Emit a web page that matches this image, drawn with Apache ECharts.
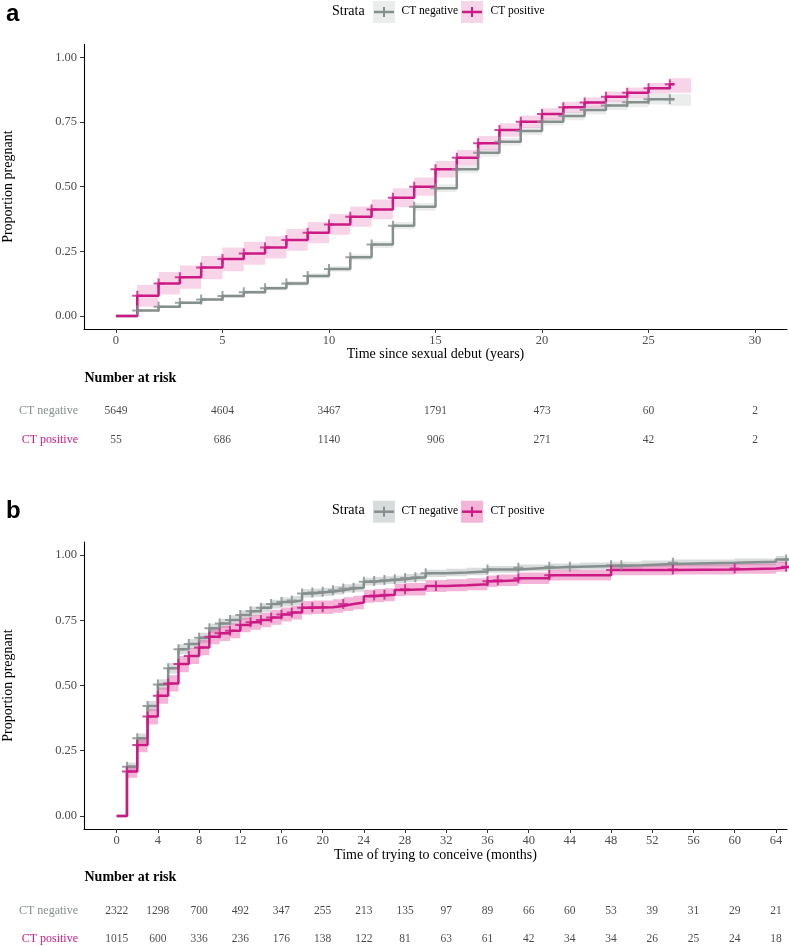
<!DOCTYPE html>
<html>
<head>
<meta charset="utf-8">
<script src="https://cdn.jsdelivr.net/npm/echarts@6.0.0/dist/echarts.min.js"></script>
<style>
  html, body { margin: 0; padding: 0; background: #fff; }
  #chart { width: 789px; height: 946px; }
</style>
</head>
<body>
<div id="chart"></div>
<script>
// ---- panel a: time since sexual debut (years) ----
const yearsA = [0,1,2,3,4,5,6,7,8,9,10,11,12,13,14,15,16,17,18,19,20,21,22,23,24,25,26];
const negA   = [0,0.021,0.036,0.051,0.064,0.077,0.092,0.107,0.126,0.155,0.182,0.227,0.276,0.349,0.422,0.494,0.567,0.631,0.674,0.715,0.751,0.773,0.796,0.814,0.826,0.838,0.838];
const negLoA = [0,0.017,0.031,0.045,0.058,0.070,0.085,0.099,0.117,0.145,0.171,0.215,0.263,0.335,0.407,0.479,0.552,0.616,0.659,0.700,0.736,0.757,0.779,0.796,0.807,0.818,0.813];
const negHiA = [0,0.025,0.041,0.057,0.070,0.084,0.099,0.115,0.135,0.165,0.193,0.239,0.289,0.363,0.437,0.509,0.582,0.646,0.689,0.730,0.766,0.789,0.813,0.832,0.845,0.858,0.857];
const posA   = [0,0.078,0.126,0.150,0.187,0.220,0.242,0.265,0.294,0.322,0.354,0.384,0.412,0.457,0.500,0.567,0.612,0.668,0.719,0.751,0.781,0.807,0.825,0.848,0.863,0.880,0.896];
const posLoA = [0,0.036,0.083,0.105,0.142,0.173,0.198,0.222,0.252,0.281,0.314,0.345,0.374,0.420,0.465,0.535,0.582,0.640,0.693,0.727,0.759,0.786,0.805,0.828,0.843,0.859,0.863];
const posHiA = [0,0.120,0.170,0.195,0.232,0.265,0.287,0.308,0.336,0.363,0.394,0.423,0.450,0.494,0.535,0.599,0.642,0.696,0.745,0.775,0.803,0.828,0.845,0.868,0.883,0.901,0.919];
const censorA = [1,2,3,4,5,6,7,8,9,10,11,12,13,14,15,16,17,18,19,20,21,22,23,24,25,26];
const lineEndA = 26.2;
const bandEndA = 27;
const ticksA = [0,5,10,15,20,25,30];
const riskTimesA = [0,5,10,15,20,25,30];
const riskNegA = [5649,4604,3467,1791,473,60,2];
const riskPosA = [55,686,1140,906,271,42,2];

// ---- panel b: time of trying to conceive (months) ----
const monthsNegB = [0,1,2,3,4,5,6,7,8,9,10,11,12,13,14,15,16,17,18,19,20,21,22,23,24,25,26,27,28,29,30,32,34,36,39,42,45,48,51,54,60,64];
const negB   = [0,0.189,0.298,0.421,0.504,0.566,0.639,0.659,0.683,0.719,0.738,0.751,0.770,0.785,0.798,0.812,0.820,0.826,0.853,0.856,0.859,0.865,0.872,0.875,0.898,0.901,0.904,0.907,0.912,0.915,0.930,0.933,0.937,0.945,0.951,0.955,0.958,0.961,0.966,0.970,0.974,0.983];
const negLoB = [0,0.173,0.280,0.401,0.484,0.546,0.620,0.640,0.664,0.701,0.720,0.733,0.752,0.768,0.781,0.795,0.803,0.809,0.837,0.840,0.843,0.849,0.856,0.859,0.883,0.886,0.889,0.892,0.897,0.900,0.916,0.919,0.923,0.932,0.938,0.942,0.945,0.948,0.953,0.957,0.961,0.970];
const negHiB = [0,0.205,0.316,0.441,0.524,0.586,0.658,0.678,0.702,0.737,0.756,0.769,0.788,0.802,0.815,0.829,0.837,0.843,0.869,0.872,0.875,0.881,0.888,0.891,0.913,0.916,0.919,0.922,0.927,0.930,0.944,0.947,0.951,0.958,0.964,0.968,0.971,0.974,0.979,0.983,0.987,0.996];
const monthsPosB = [0,1,2,3,4,5,6,7,8,9,10,11,12,13,14,15,16,17,18,19,21,22,23,24,25,26,27,28,30,32,34,36,37,39,42,48,54,60,64];
const posB   = [0,0.170,0.272,0.381,0.461,0.508,0.582,0.613,0.646,0.687,0.700,0.710,0.732,0.742,0.751,0.761,0.772,0.780,0.798,0.800,0.805,0.812,0.818,0.842,0.845,0.848,0.866,0.869,0.881,0.884,0.888,0.900,0.903,0.911,0.923,0.943,0.945,0.948,0.955];
const posLoB = [0,0.146,0.244,0.351,0.430,0.477,0.551,0.582,0.616,0.658,0.671,0.681,0.704,0.714,0.723,0.733,0.745,0.753,0.772,0.774,0.779,0.786,0.792,0.817,0.820,0.823,0.842,0.845,0.858,0.861,0.865,0.878,0.881,0.889,0.902,0.923,0.925,0.928,0.936];
const posHiB = [0,0.194,0.300,0.411,0.492,0.539,0.613,0.644,0.676,0.716,0.729,0.739,0.760,0.770,0.779,0.789,0.799,0.807,0.824,0.826,0.831,0.838,0.844,0.867,0.870,0.873,0.890,0.893,0.904,0.907,0.911,0.922,0.925,0.933,0.944,0.963,0.965,0.968,0.974];
const censorNegB = [1,2,3,4,5,6,7,8,9,10,11,12,13,14,15,16,17,18,19,20,21,22,23,24,25,26,27,28,29,30,36,39,42,44,48,49,54,65];
const censorPosB = [1,2,3,4,5,6,7,8,9,10,11,12,13,14,15,16,17,18,19,20,22,25,26,28,31,36,37,39,42,48,54,60,65];
const lineEndB = 65.5;
const ticksB = [0,4,8,12,16,20,24,28,32,36,40,44,48,52,56,60,64];
const riskTimesB = [0,4,8,12,16,20,24,28,32,36,40,44,48,52,56,60,64];
const riskNegB = [2322,1298,700,492,347,255,213,135,97,89,66,60,53,39,31,29,21];
const riskPosB = [1015,600,336,236,176,138,122,81,63,61,42,34,34,26,25,24,18];

const groups = ['CT negative', 'CT positive'];
const yTicks = [0, 0.25, 0.5, 0.75, 1];

const SERIF = "'Liberation Serif', 'Times New Roman', serif";
const GREY = '#858f8d';
const PINK = '#cb1a83';
const bandA = { neg: 'rgba(130,140,138,0.16)', pos: 'rgba(220,40,140,0.2)' };
const bandB = { neg: 'rgba(130,140,138,0.3)', pos: 'rgba(220,40,140,0.35)' };

// step curve data, held flat to the end time
function stepData(times, vals, endT) {
  const d = times.map((t, i) => [t, vals[i]]);
  d.push([endT, vals[vals.length - 1]]);
  return d;
}

// survival value at time t (right-continuous step)
function valueAt(times, vals, t) {
  let v = vals[0];
  for (let i = 0; i < times.length; i++) {
    if (times[i] <= t) v = vals[i];
  }
  return v;
}

// stepped confidence ribbon, drawn as one polygon through the axis scales
function bandSeries(idx, times, lo, hi, endT, color) {
  const pts = times.map((t, i) => [t, lo[i], hi[i]]);
  pts.push([endT, lo[lo.length - 1], hi[hi.length - 1]]);
  return {
    type: 'custom', xAxisIndex: idx, yAxisIndex: idx, silent: true, clip: true, z: 1,
    data: pts, encode: { x: 0, y: [1, 2] },
    renderItem: (params, api) => {
      if (params.dataIndex !== 0) return null;
      const upper = [], lower = [];
      for (let i = 0; i < pts.length - 1; i++) {
        upper.push(api.coord([pts[i][0], pts[i][2]]), api.coord([pts[i + 1][0], pts[i][2]]));
        lower.push(api.coord([pts[i][0], pts[i][1]]), api.coord([pts[i + 1][0], pts[i][1]]));
      }
      const cs = params.coordSys;
      return {
        type: 'polygon',
        shape: { points: upper.concat(lower.reverse()) },
        style: { fill: color },
        clipPath: { type: 'rect', shape: { x: cs.x, y: cs.y, width: cs.width, height: cs.height } },
      };
    },
  };
}

function curveSeries(idx, times, vals, endT, color) {
  return {
    type: 'line', xAxisIndex: idx, yAxisIndex: idx, step: 'end',
    data: stepData(times, vals, endT), symbol: 'none', silent: true,
    lineStyle: { color: color, width: 2.5 }, z: 3,
  };
}

function censorSeries(idx, times, vals, cens, color) {
  return {
    type: 'scatter', xAxisIndex: idx, yAxisIndex: idx, silent: true,
    data: cens.map(t => [t, valueAt(times, vals, t)]),
    symbol: 'path://M0,5L10,5M5,0L5,10', symbolSize: 10,
    itemStyle: { color: 'rgba(0,0,0,0)', borderColor: color, borderWidth: 2 }, z: 4,
  };
}

function riskSeries(idx, times, counts, group) {
  return {
    type: 'scatter', xAxisIndex: idx, yAxisIndex: idx, silent: true,
    data: times.map((t, i) => [t, group, counts[i]]),
    symbol: 'rect', symbolSize: 1, itemStyle: { color: 'rgba(0,0,0,0)' },
    label: {
      show: true, position: 'inside', formatter: p => String(p.value[2]),
      fontFamily: SERIF, fontSize: 11.5, color: '#1a1a1a',
    },
  };
}

function plotX(idx, min, max, ticks, name) {
  return {
    type: 'value', gridIndex: idx, min: min, max: max,
    name: name, nameLocation: 'middle', nameGap: 18,
    nameTextStyle: { fontFamily: SERIF, fontSize: 14, color: '#000' },
    axisLine: { onZero: false, lineStyle: { color: '#000', width: 1.1 } },
    axisTick: { customValues: ticks, length: 4, lineStyle: { color: '#333' } },
    axisLabel: { customValues: ticks, margin: 5, fontFamily: SERIF, fontSize: 12.5, color: '#4d4d4d' },
    splitLine: { show: false },
  };
}

function plotY(idx) {
  return {
    type: 'value', gridIndex: idx, min: -0.05, max: 1.05,
    name: 'Proportion pregnant', nameLocation: 'middle', nameRotate: 90, nameGap: 69,
    nameTextStyle: { fontFamily: SERIF, fontSize: 14, color: '#000' },
    axisLine: { show: true, onZero: false, lineStyle: { color: '#000', width: 1.1 } },
    axisTick: { show: true, customValues: yTicks, length: 4, lineStyle: { color: '#333' } },
    axisLabel: {
      customValues: yTicks, margin: 7, formatter: v => Number(v).toFixed(2),
      fontFamily: SERIF, fontSize: 12.5, color: '#4d4d4d',
    },
    splitLine: { show: false },
  };
}

function riskX(idx, min, max) {
  return {
    type: 'value', gridIndex: idx, min: min, max: max,
    axisLine: { show: false }, axisTick: { show: false },
    axisLabel: { show: false }, splitLine: { show: false },
  };
}

// rows sit on the grid's top and bottom edges (boundaryGap off)
function riskY(idx) {
  return {
    type: 'category', gridIndex: idx, data: groups, inverse: true, boundaryGap: false,
    axisLine: { show: false }, axisTick: { show: false }, splitLine: { show: false },
    axisLabel: {
      margin: 6, fontFamily: SERIF, fontSize: 12,
      color: (v) => (v === 'CT negative' ? GREY : PINK),
    },
  };
}

function legend(cy, fills) {
  const box = 22;
  const keys = [
    { x: 373, fill: fills.neg, color: GREY, label: 'CT negative', lx: 401.5 },
    { x: 461, fill: fills.pos, color: PINK, label: 'CT positive', lx: 490.5 },
  ];
  const els = [{
    type: 'text', left: 332, top: cy - 8,
    style: { text: 'Strata', font: '14px ' + SERIF, fill: '#000' },
  }];
  keys.forEach(k => {
    els.push({ type: 'rect', shape: { x: k.x, y: cy - box / 2, width: box, height: box }, style: { fill: k.fill } });
    els.push({ type: 'line', shape: { x1: k.x + 1, y1: cy, x2: k.x + box - 1, y2: cy }, style: { stroke: k.color, lineWidth: 2.5 } });
    els.push({ type: 'line', shape: { x1: k.x + box / 2, y1: cy - 5, x2: k.x + box / 2, y2: cy + 5 }, style: { stroke: k.color, lineWidth: 2 } });
    els.push({ type: 'text', left: k.lx, top: cy - 7, style: { text: k.label, font: '11.5px ' + SERIF, fill: '#000' } });
  });
  return els;
}

const chart = echarts.init(document.getElementById('chart'), null, { renderer: 'canvas' });

const option = {
  animation: false,
  backgroundColor: '#fff',
  grid: [
    { left: 84, right: 2, top: 44.4, height: 284.5, outerBoundsMode: 'none' },
    { left: 84, right: 2, top: 410.5, height: 29, outerBoundsMode: 'none' },
    { left: 84, right: 2, top: 542, height: 287, outerBoundsMode: 'none' },
    { left: 84, right: 2, top: 910.5, height: 28, outerBoundsMode: 'none' },
  ],
  xAxis: [
    plotX(0, -1.5, 31.5, ticksA, 'Time since sexual debut (years)'),
    riskX(1, -1.5, 31.5),
    plotX(2, -3.17, 65.08, ticksB, 'Time of trying to conceive (months)'),
    riskX(3, -3.17, 65.08),
  ],
  yAxis: [plotY(0), riskY(1), plotY(2), riskY(3)],
  series: [
    bandSeries(0, yearsA, negLoA, negHiA, bandEndA, bandA.neg),
    bandSeries(0, yearsA, posLoA, posHiA, bandEndA, bandA.pos),
    curveSeries(0, yearsA, negA, lineEndA, GREY),
    curveSeries(0, yearsA, posA, lineEndA, PINK),
    censorSeries(0, yearsA, negA, censorA, GREY),
    censorSeries(0, yearsA, posA, censorA, PINK),
    riskSeries(1, riskTimesA, riskNegA, 'CT negative'),
    riskSeries(1, riskTimesA, riskPosA, 'CT positive'),

    bandSeries(2, monthsNegB, negLoB, negHiB, lineEndB, bandB.neg),
    bandSeries(2, monthsPosB, posLoB, posHiB, lineEndB, bandB.pos),
    curveSeries(2, monthsNegB, negB, lineEndB, GREY),
    curveSeries(2, monthsPosB, posB, lineEndB, PINK),
    censorSeries(2, monthsNegB, negB, censorNegB, GREY),
    censorSeries(2, monthsPosB, posB, censorPosB, PINK),
    riskSeries(3, riskTimesB, riskNegB, 'CT negative'),
    riskSeries(3, riskTimesB, riskPosB, 'CT positive'),
  ],
  graphic: [
    { type: 'text', left: 6, top: 2, style: { text: 'a', font: 'bold 24px "Liberation Sans", Arial, sans-serif', fill: '#000' } },
    { type: 'text', left: 6, top: 499, style: { text: 'b', font: 'bold 24px "Liberation Sans", Arial, sans-serif', fill: '#000' } },
    { type: 'text', left: 84.5, top: 371, style: { text: 'Number at risk', font: 'bold 14px ' + SERIF, fill: '#000' } },
    { type: 'text', left: 84.5, top: 870, style: { text: 'Number at risk', font: 'bold 14px ' + SERIF, fill: '#000' } },
    ...legend(12, bandA),
    ...legend(511.7, bandB),
  ],
};

chart.setOption(option);
</script>
</body>
</html>
